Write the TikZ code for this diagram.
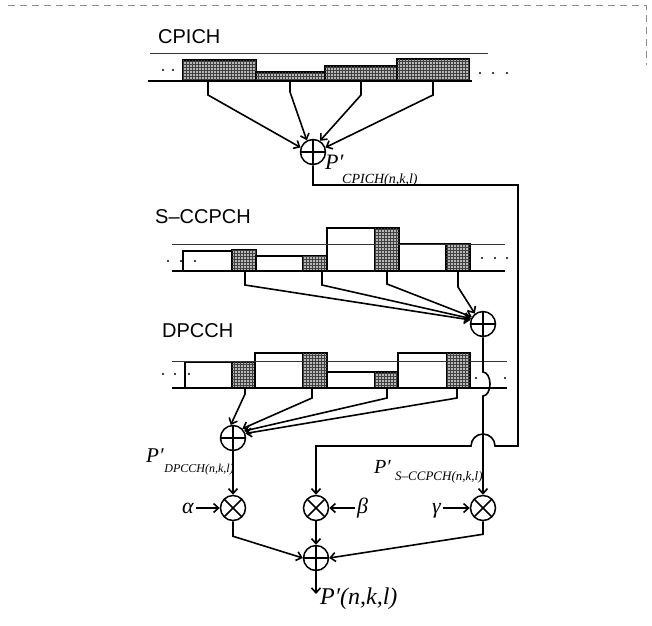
\documentclass[tikz,border=0pt]{standalone}
\usepackage{fontspec}
\setmainfont{Liberation Serif}
\setsansfont{Liberation Sans}
\usetikzlibrary{arrows.meta,patterns}
\begin{document}
\begin{tikzpicture}[x=1pt,y=-1pt,
  >={Straight Barb[length=5pt,width=9pt]},
  sig/.style={line width=1.6pt},
  chanthin/.style={line width=0.8pt, black!80},
  chanbase/.style={line width=1.8pt},
  wbox/.style={draw, line width=1.6pt, fill=white},
  sbox/.style={draw, line width=1.6pt, fill=black!28, postaction={pattern=grid, pattern color=black!75}},
  sumnode/.style={circle, draw, line width=1.5pt, minimum size=25pt, inner sep=0pt,
     path picture={\draw[line width=1.5pt] (path picture bounding box.north) -- (path picture bounding box.south) (path picture bounding box.west) -- (path picture bounding box.east);}},
  mulnode/.style={circle, draw, line width=1.5pt, minimum size=25pt, inner sep=0pt,
     path picture={\draw[line width=1.5pt] (path picture bounding box.north west) -- (path picture bounding box.south east) (path picture bounding box.south west) -- (path picture bounding box.north east);}},
  head/.style={font=\sffamily\fontsize{20}{20}\selectfont, anchor=base west, inner sep=0pt},
  lab/.style={anchor=base west, inner sep=0pt},
  greek/.style={anchor=base west, inner xsep=2pt, inner ysep=0pt, font=\itshape\fontsize{22}{22}\selectfont},
]
\useasboundingbox (0,0) rectangle (652,625);
% scan border
\draw[black!45, dash pattern=on 7pt off 5pt, line width=0.6pt] (8,5) -- (646,5) -- (646,65);

% headings
\node[head] (hcp) at (158,43) {CPICH};
\node[head] (hsc) at (155,223) {S–CCPCH};
\node[head] (hdp) at (162,337) {DPCCH};

% CPICH slots
\draw[sbox] (183,60) rectangle (256,81);
\draw[sbox] (256,72) rectangle (325,81);
\draw[sbox] (325,66) rectangle (397,81);
\draw[sbox] (397,59) rectangle (469,81);
\draw[chanthin] (150,53) -- (488,53);
\draw[chanbase] (148,81) -- (472,81);
\foreach \p in {(163,70),(173,70),(480,73),(493,73),(507,73)} \fill \p circle (1.2pt);

% S-CCPCH slots
\draw[wbox] (183,251) rectangle (232,271);
\draw[sbox] (232,250) rectangle (256,271);
\draw[wbox] (256,256) rectangle (303,271);
\draw[sbox] (303,256) rectangle (327,271);
\draw[wbox] (327,228) rectangle (375,271);
\draw[sbox] (375,228) rectangle (399,271);
\draw[wbox] (399,244) rectangle (446,271);
\draw[sbox] (446,244) rectangle (470,271);
\draw[chanthin] (172,244) -- (505,244);
\draw[chanbase] (172,271) -- (505,271);
\foreach \p in {(168,261),(181,261),(195,261),(482,258),(495,258),(507,258)} \fill \p circle (1.2pt);

% DPCCH slots
\draw[wbox] (185,362) rectangle (232,388);
\draw[sbox] (232,362) rectangle (255,388);
\draw[wbox] (255,353) rectangle (303,388);
\draw[sbox] (303,353) rectangle (327,388);
\draw[wbox] (327,372) rectangle (375,388);
\draw[sbox] (375,372) rectangle (398,388);
\draw[wbox] (398,353) rectangle (447,388);
\draw[sbox] (447,353) rectangle (470,388);
\draw[chanthin] (172,361) -- (507,361);
\draw[chanbase] (172,388) -- (507,388);
\foreach \p in {(163,374),(175,374),(189,374),(476,378),(505,378)} \fill \p circle (1.2pt);

% operators
\node[sumnode] (c1) at (313,152) {};
\node[sumnode] (c2) at (483,324) {};
\node[sumnode] (c3) at (233,438) {};
\node[mulnode] (m1) at (233,508) {};
\node[mulnode] (m2) at (316,508) {};
\node[mulnode] (m3) at (483,508) {};
\node[sumnode] (c4) at (316,558) {};

% taps
\coordinate (a1) at (208,81); \coordinate (a2) at (290,81);
\coordinate (a3) at (361,81); \coordinate (a4) at (433,81);
\coordinate (b1) at (245,271); \coordinate (b2) at (322,271);
\coordinate (b3) at (387,271); \coordinate (b4) at (458,271);
\coordinate (d1) at (245,388); \coordinate (d2) at (312,388);
\coordinate (d3) at (387,388); \coordinate (d4) at (457,388);

\draw[sig,->] (a1) -- ++(0,14) -- (c1.160);
\draw[sig,->] (a2) -- ++(0,11) -- (c1.118);
\draw[sig,->] (a3) -- ++(0,14) -- (c1.58);
\draw[sig,->] (a4) -- ++(0,14) -- (c1.20);

\draw[sig,->] (b1) -- ++(0,14) -- (c2.162);
\draw[sig,->] (b2) -- ++(0,14) -- (c2.156);
\draw[sig,->] (b3) -- ++(0,13) -- (c2.148);
\draw[sig,->] (b4) -- ++(0,16) -- (c2.128);

\draw[sig,->] (d1) -- ++(0,6) -- (c3.100);
\draw[sig,->] (d2) -- ++(0,10) -- (c3.45);
\draw[sig,->] (d3) -- ++(0,10) -- (c3.32);
\draw[sig,->] (d4) -- ++(0,10) -- (c3.20);

% routed signals
\coordinate (r1) at (518,185);
\coordinate (r2) at (518,446);
\draw[sig,->] (c1.south) |- (r1) -- (r2) -- (495,446)
   arc[start angle=0, end angle=-180, radius=12] -- (m2.north |- r2) -- (m2.north);
\draw[sig,->] (c2.south) -- (483,372)
   arc[start angle=-90, end angle=90, x radius=7, y radius=12] -- (m3.north);
\draw[sig,->] (c3.south) -- (m1.north);
\draw[sig,->] (m1.south) -- ++(0,15) -- (c4.west);
\draw[sig,->] (m3.south) -- ++(0,13) -- (c4.east);
\draw[sig,->] (m2.south) -- (c4.north);
\coordinate (out) at (316,594);
\draw[sig,->] (c4.south) -- (out);

% gains
\node[greek] (la) at (180,513) {α};
\node[greek] (lb) at (355,513) {β};
\node[greek] (lg) at (430,513) {γ};
\draw[sig,->] (la.east |- m1) -- (m1.west);
\draw[sig,->] (lb.west |- m2) -- (m2.east);
\draw[sig,->] (lg.east |- m3) -- (m3.west);

% signal labels
\node[lab, font=\itshape\fontsize{22}{22}\selectfont] (pc) at (325,169) {P′};
\node[lab, font=\itshape\fontsize{14}{14}\selectfont] (pcs) at (342,183) {CPICH(n,k,l)};
\node[lab, font=\itshape\fontsize{20}{20}\selectfont] (ps) at (374,473) {P′};
\node[lab, font=\itshape\fontsize{13}{13}\selectfont] (pss) at (395,480) {S–CCPCH(n,k,l)};
\node[lab, font=\itshape\fontsize{21}{21}\selectfont] (pd) at (146,462) {P′};
\node[anchor=base east, inner sep=0pt, font=\itshape\fontsize{12}{12}\selectfont] (pds) at (234,472) {DPCCH(n,k,l)};
\node[lab, font=\itshape\fontsize{24}{24}\selectfont] (lout) at (320,604) {P′(n,k,l)};
\end{tikzpicture}
\end{document}
